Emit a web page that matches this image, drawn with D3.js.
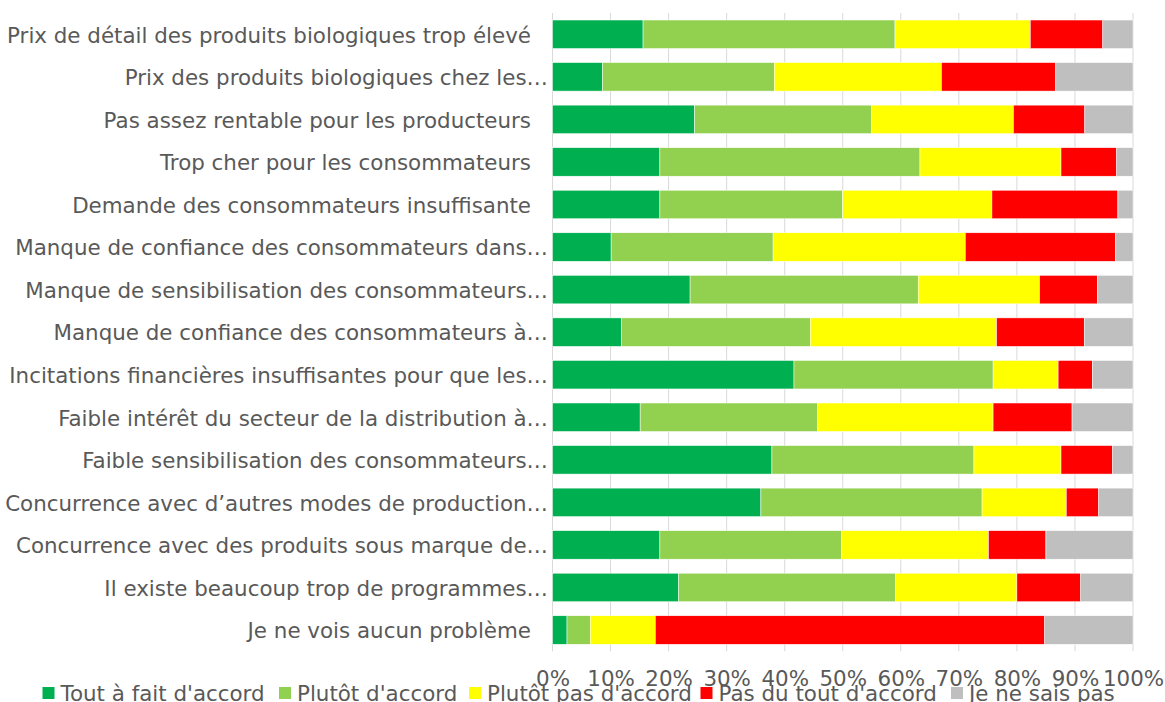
<!DOCTYPE html>
<html>
<head>
<meta charset="utf-8">
<script src="https://cdn.jsdelivr.net/npm/d3@7"></script>
<style>
  html, body { margin: 0; padding: 0; background: #fff; }
  svg { display: block; }
  text { font-family: "DejaVu Sans", Verdana, sans-serif; fill: #595959; }
</style>
</head>
<body>
<svg id="chart" width="1165" height="702"></svg>
<script>
const categories = [
  "Prix de détail des produits biologiques trop élevé",
  "Prix des produits biologiques chez les…",
  "Pas assez rentable pour les producteurs",
  "Trop cher pour les consommateurs",
  "Demande des consommateurs insuffisante",
  "Manque de confiance des consommateurs dans…",
  "Manque de sensibilisation des consommateurs…",
  "Manque de confiance des consommateurs à…",
  "Incitations financières insuffisantes pour que les…",
  "Faible intérêt du secteur de la distribution à…",
  "Faible sensibilisation des consommateurs…",
  "Concurrence avec d’autres modes de production…",
  "Concurrence avec des produits sous marque de…",
  "Il existe beaucoup trop de programmes…",
  "Je ne vois aucun problème"
];
const seriesNames = ["Tout à fait d'accord", "Plutôt d'accord", "Plutôt pas d'accord", "Pas du tout d'accord", "Je ne sais pas"];
const seriesColors = ["#00B050", "#92D050", "#FFFF00", "#FF0000", "#BFBFBF"];

const toutAFait   = [15.6,  8.6, 24.5, 18.5, 18.5, 10.1, 23.7, 11.9, 41.6, 15.1, 37.8, 35.9, 18.5, 21.7,  2.5];
const plutot      = [43.4, 29.6, 30.5, 44.8, 31.5, 27.9, 39.3, 32.5, 34.3, 30.6, 34.8, 38.1, 31.3, 37.4,  4.0];
const plutotPas   = [23.3, 28.8, 24.4, 24.3, 25.7, 33.1, 20.9, 32.1, 11.2, 30.2, 15.0, 14.5, 25.3, 20.9, 11.2];
const pasDuTout   = [12.5, 19.7, 12.3,  9.6, 21.7, 25.9, 10.0, 15.1,  5.9, 13.6,  8.9,  5.6,  9.9, 11.0, 67.1];
const neSaisPas   = [ 5.2, 13.3,  8.3,  2.8,  2.6,  3.0,  6.1,  8.4,  7.0, 10.5,  3.5,  5.9, 15.0,  9.0, 15.2];
const tickValues  = [0, 0.1, 0.2, 0.3, 0.4, 0.5, 0.6, 0.7, 0.8, 0.9, 1.0];

const seriesValues = [toutAFait, plutot, plutotPas, pasDuTout, neSaisPas];
const rows = categories.map((c, i) => {
  const o = { cat: c };
  const total = d3.sum(seriesValues, s => s[i]);
  seriesNames.forEach((n, k) => o[n] = seriesValues[k][i] / total);
  return o;
});
const stacked = d3.stack().keys(seriesNames)(rows);

const svg = d3.select("#chart");
const plotLeft = 552.5, plotRight = 1133, plotTop = 13, plotBottom = 651.3;
const FS = "21.4px";

const x = d3.scaleLinear().domain([0, 1]).range([plotLeft, plotRight]);
const y = d3.scaleBand().domain(categories).range([plotTop, plotBottom]).paddingInner(0.33).paddingOuter(0.165);
const color = d3.scaleOrdinal().domain(seriesNames).range(seriesColors);

// gridlines
svg.append("g").selectAll("line").data(tickValues).join("line")
  .attr("x1", d => x(d)).attr("x2", d => x(d))
  .attr("y1", plotTop).attr("y2", plotBottom)
  .attr("stroke", "#d9d9d9").attr("stroke-width", 1);

// bars
svg.append("g").selectAll("g").data(stacked).join("g")
  .attr("fill", d => color(d.key))
  .selectAll("rect").data(d => d).join("rect")
  .attr("x", d => x(d[0]))
  .attr("width", d => x(d[1]) - x(d[0]))
  .attr("y", d => y(d.data.cat))
  .attr("height", y.bandwidth())
  .attr("stroke", "#ffffff").attr("stroke-width", 0.5);

// category labels
const yAxis = svg.append("g");
yAxis.selectAll("text").data(categories).join("text")
  .attr("x", d => d.endsWith("…") ? 548 : 531)
  .attr("y", d => y(d) + y.bandwidth() / 2)
  .attr("dy", "0.39em")
  .attr("text-anchor", "end")
  .style("font-size", FS)
  .text(d => d);

// x tick labels
const xAxis = d3.axisBottom(x).tickValues(tickValues).tickFormat(d3.format(".0%")).tickSize(0).tickPadding(0);
const gx = svg.append("g").attr("transform", `translate(0, 671)`).call(xAxis);
gx.select(".domain").remove();
gx.selectAll("text").style("font-size", FS).style("fill", "#595959")
  .style("font-family", "'DejaVu Sans', Verdana, sans-serif");

// legend
const legendX = [42.5, 279, 469, 700.5, 951];
const lg = svg.append("g").selectAll("g").data(seriesNames).join("g")
  .attr("transform", (d, i) => `translate(${legendX[i]}, 687)`);
lg.append("rect").attr("width", 12).attr("height", 12).attr("fill", d => color(d));
lg.append("text").attr("x", 18).attr("y", 13.6).style("font-size", FS).text(d => d);
</script>
</body>
</html>
